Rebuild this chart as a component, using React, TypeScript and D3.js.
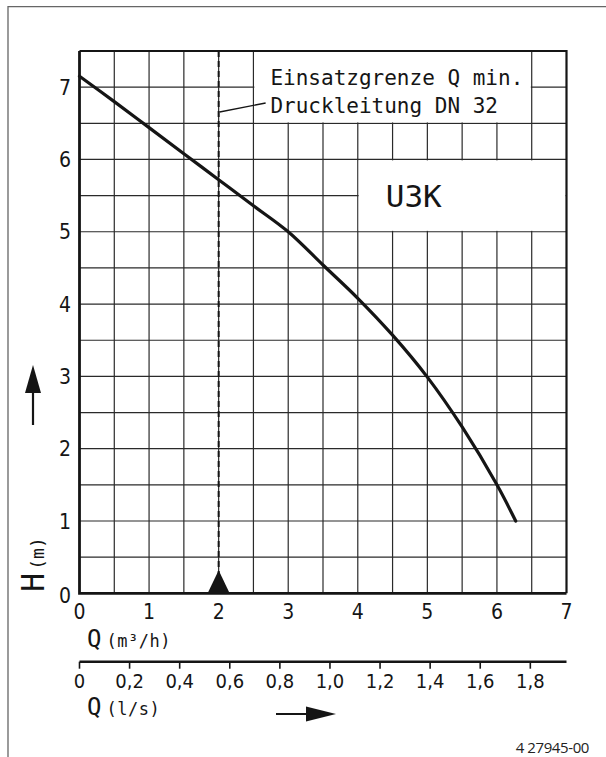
import * as d3 from "d3";

// Kennlinie U3K: Förderstrom Q (m³/h) gegen Förderhöhe H (m)
const flowM3h = [0, 0.5, 1, 1.5, 2, 2.5, 3, 3.5, 4, 4.5, 5, 5.5, 6, 6.27];
const headM = [7.15, 6.8, 6.44, 6.08, 5.72, 5.36, 5.0, 4.54, 4.08, 3.57, 2.99, 2.3, 1.5, 1.0];

const xTicks = [0, 1, 2, 3, 4, 5, 6, 7];
const yTicks = [0, 1, 2, 3, 4, 5, 6, 7];
const lsTicks = [0, 0.2, 0.4, 0.6, 0.8, 1.0, 1.2, 1.4, 1.6, 1.8];
const gridX = d3.range(0.5, 7, 0.5);
const gridY = d3.range(0.5, 7.5, 0.5);

const qMin = 2;
const noteLines = ["Einsatzgrenze Q min.", "Druckleitung DN 32"];
const typeLabel = "U3K";
// [x0, x1, y0, y1] in Achseneinheiten
const noteBox = [2.5, 6.5, 6.5, 7.5];
const typeBox = [4, 7, 5, 6];
const docNumber = "4 27945-00";

const W = 606;
const H = 757;
const mono = "'DejaVu Sans Mono', 'Liberation Mono', monospace";
const cond = "'DejaVu Sans Condensed', 'DejaVu Sans', sans-serif";
const ink = "#151515";

export default function App() {
  const x = d3.scaleLinear().domain([0, 7]).range([79.5, 566.5]);
  const y = d3.scaleLinear().domain([0, 7.5]).range([593.3, 51]);
  const xLs = d3.scaleLinear().domain([0, 7 / 3.6]).range([79.5, 566.5]);

  const line = d3
    .line<number>()
    .x((d) => x(d))
    .y((_, i) => y(headM[i]))
    .curve(d3.curveCatmullRom.alpha(0.5));

  const lsAxisY = 661.7;
  const fmt = (v: number) => (v === 0 ? "0" : v.toFixed(1).replace(".", ","));

  const maskRect = (b: number[]) => (
    <rect
      x={x(b[0]) + 0.9}
      y={y(b[3]) + 0.9}
      width={x(b[1]) - x(b[0]) - 1.8}
      height={y(b[2]) - y(b[3]) - 1.8}
      fill="#fff"
    />
  );

  const qx = x(qMin);

  return (
    <svg
      width={W}
      height={H}
      style={{ position: "absolute", left: 0, top: 0, background: "#fff" }}
    >
      {/* Rahmen */}
      <path d={`M${W},6.7H8V${H}`} fill="none" stroke="#666" strokeWidth={1.3} />

      {/* Raster */}
      <g stroke="#2a2a2a" strokeWidth={1.2}>
        {gridX.map((v) => (
          <line key={"gx" + v} x1={x(v)} x2={x(v)} y1={y(0)} y2={y(7.5)} />
        ))}
        {gridY.map((v) => (
          <line key={"gy" + v} x1={x(0)} x2={x(7)} y1={y(v)} y2={y(v)} />
        ))}
      </g>
      {maskRect(noteBox)}
      {maskRect(typeBox)}

      {/* Rand oben / rechts */}
      <path
        d={`M${x(0)},${y(7.5)}H${x(7)}V${y(0)}`}
        fill="none"
        stroke={ink}
        strokeWidth={2.2}
      />
      {/* Achsen */}
      <path
        d={`M${x(0)},${y(7.5)}V${y(0)}H${x(7)}`}
        fill="none"
        stroke={ink}
        strokeWidth={2.8}
      />

      {/* Q min Linie */}
      <line
        x1={qx}
        x2={qx}
        y1={y(7.5)}
        y2={y(0)}
        stroke={ink}
        strokeWidth={2}
        strokeDasharray="6,4"
      />
      <path
        d={`M${qx},${y(0) - 23}L${qx + 11},${y(0)}L${qx - 11},${y(0)}Z`}
        fill={ink}
      />
      <line
        x1={qx + 1}
        y1={112}
        x2={qx + 47}
        y2={103}
        stroke={ink}
        strokeWidth={1.3}
      />

      {/* Kennlinie */}
      <path
        d={line(flowM3h) ?? ""}
        fill="none"
        stroke={ink}
        strokeWidth={3.2}
        strokeLinecap="round"
      />

      {/* Beschriftungen in Kästen */}
      <g fontFamily={mono} fontSize={21} fill={ink}>
        {noteLines.map((t, i) => (
          <text key={t} x={x(noteBox[0]) + 17} y={84.5 + i * 28.3}>
            {t}
          </text>
        ))}
      </g>
      <text
        x={x(typeBox[0]) + 28}
        y={207}
        fontFamily={mono}
        fontSize={31}
        fill={ink}
      >
        {typeLabel}
      </text>

      {/* Y Ticklabels */}
      <g fontFamily={cond} fontSize={21} fill={ink} textAnchor="end">
        {yTicks.map((v) => (
          <text key={"yt" + v} x={71} y={y(v) + (v === 0 ? 2 : 0)} dy="0.36em">
            {v}
          </text>
        ))}
      </g>
      {/* X Ticklabels */}
      <g fontFamily={cond} fontSize={21} fill={ink} textAnchor="middle">
        {xTicks.map((v) => (
          <text key={"xt" + v} x={x(v)} y={618.5}>
            {v}
          </text>
        ))}
      </g>

      {/* Q (m³/h) */}
      <text x={87} y={647} fontFamily={mono} fontSize={24} fill={ink}>
        Q
        <tspan fontSize={17} dx={5} letterSpacing={0.5}>
          (m³/h)
        </tspan>
      </text>

      {/* Zweite Achse l/s */}
      <line
        x1={xLs(0)}
        x2={x(7)}
        y1={lsAxisY}
        y2={lsAxisY}
        stroke={ink}
        strokeWidth={2.4}
      />
      <g stroke={ink} strokeWidth={1.6}>
        {lsTicks.map((v) => (
          <line
            key={"lt" + v}
            x1={xLs(v)}
            x2={xLs(v)}
            y1={lsAxisY}
            y2={lsAxisY + 7}
          />
        ))}
      </g>
      <g fontFamily={cond} fontSize={20} fill={ink} textAnchor="middle">
        {lsTicks.map((v) => (
          <text key={"ll" + v} x={xLs(v)} y={688}>
            {fmt(v)}
          </text>
        ))}
      </g>
      <text x={87} y={715} fontFamily={mono} fontSize={24} fill={ink}>
        Q
        <tspan fontSize={17} dx={5} letterSpacing={0.5}>
          (l/s)
        </tspan>
      </text>

      {/* Pfeil rechts */}
      <line x1={276} x2={310} y1={714} y2={714} stroke={ink} strokeWidth={2.2} />
      <path d="M306,706.5L336,714L306,721.5Z" fill={ink} />

      {/* Pfeil hoch + H (m) */}
      <line x1={33} x2={33} y1={390} y2={425} stroke={ink} strokeWidth={2.2} />
      <path d="M33,365L41,393L25,393Z" fill={ink} />
      <text
        transform="translate(44,592) rotate(-90)"
        fontFamily={mono}
        fontSize={32}
        fill={ink}
      >
        H
        <tspan fontSize={18} dx={3}>
          (m)
        </tspan>
      </text>

      <text
        x={589}
        y={753}
        textAnchor="end"
        fontFamily="'Open Sans', sans-serif"
        fontSize={15}
        letterSpacing={-0.4}
        fill="#222"
      >
        {docNumber}
      </text>
    </svg>
  );
}
